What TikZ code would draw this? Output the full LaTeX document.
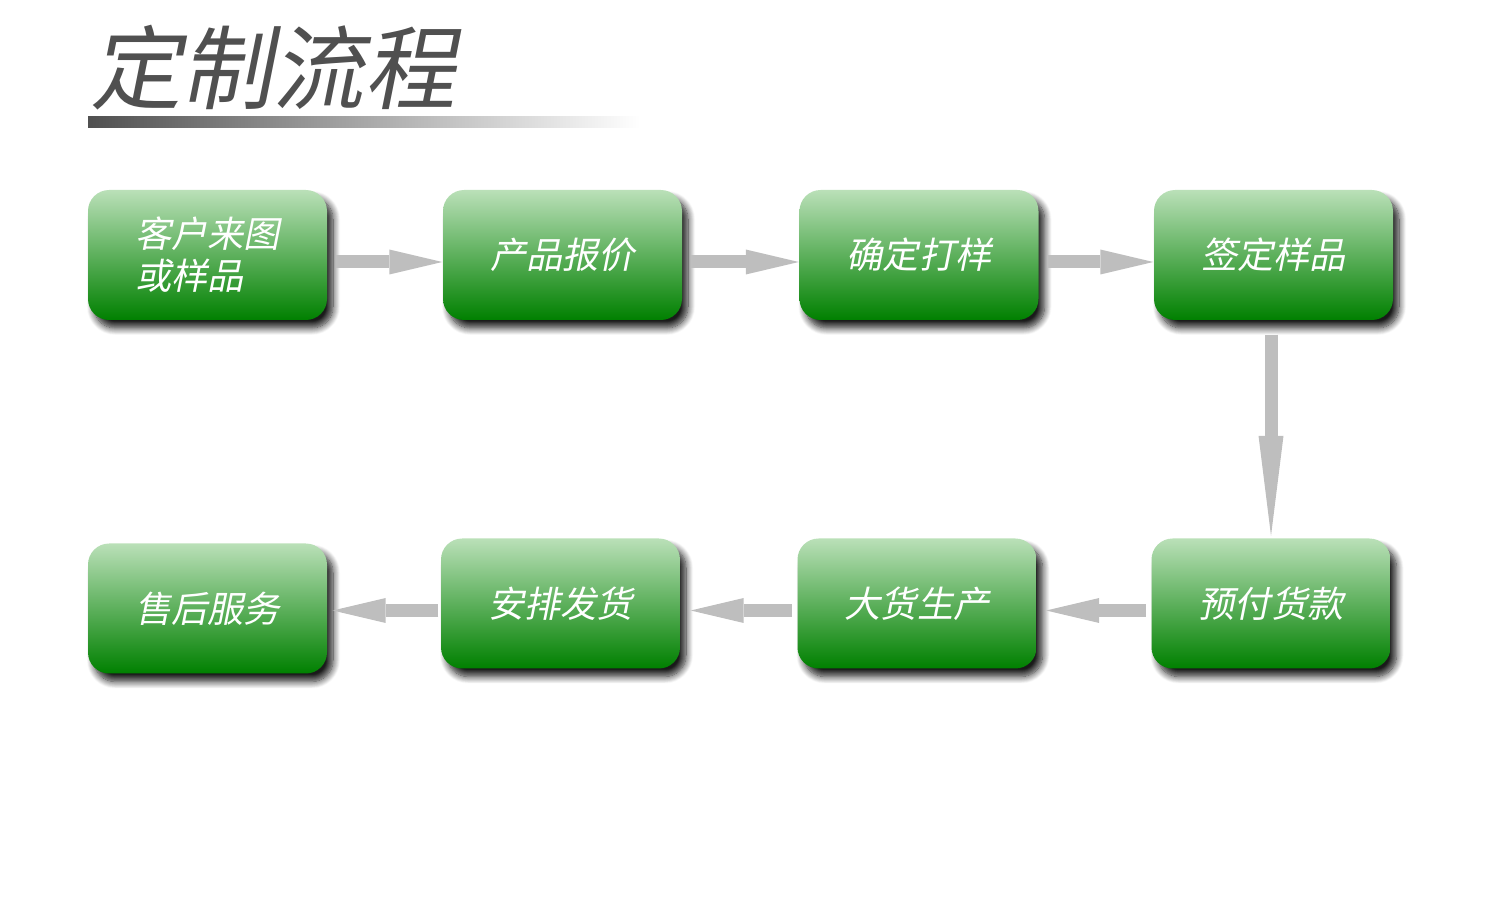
\documentclass[tikz,border=0pt]{standalone}
\usepackage{fontspec}
\usepackage{xcolor}
\usepackage{tikz}
\usetikzlibrary{arrows.meta,shadows.blur}
\newfontfamily\cjk[FakeSlant=0.2]{Noto Sans CJK SC}
\definecolor{boxTop}{RGB}{186,224,184}
\definecolor{boxBottom}{RGB}{0,128,0}
\definecolor{arrowGray}{RGB}{190,190,190}
\definecolor{titleGray}{RGB}{80,80,80}

\tikzset{
  stepbox/.style={rounded corners=6pt, top color=boxTop, bottom color=boxBottom, minimum width=2.39cm, minimum height=1.3cm, inner sep=0pt, align=left, text=white, font=\cjk\fontsize{10.3}{12}\selectfont, blur shadow={shadow xshift=0.06cm, shadow yshift=-0.08cm, shadow blur radius=0.07cm, shadow blur steps=10, shadow opacity=90}},
  flowarrow/.style={draw=arrowGray, line width=0.13cm, -{Triangle[width=0.25cm, length=0.53cm, line width=0pt]}}
}

\begin{document}
\begin{tikzpicture}
\useasboundingbox (0,0) rectangle (15,9);

% ===== TITLE =====
\node[font=\cjk\fontsize{26}{28}\selectfont, text=titleGray, inner sep=0pt] (title) at (2.73, 8.32) {定制流程};
\fill[left color=titleGray, right color=white] (0.88, 7.83) rectangle (6.4, 7.72);

% ===== TOP ROW =====
\node[stepbox] (drawing) at (2.075, 6.45) {客户来图\\或样品};
\node[stepbox] (quote) at (5.625, 6.45) {产品报价};
\node[stepbox] (sample) at (9.19, 6.45) {确定打样};
\node[stepbox] (signoff) at (12.735, 6.45) {签定样品};

% ===== BOTTOM ROW =====
\node[stepbox] (deposit) at (12.71, 2.965) {预付货款};
\node[stepbox] (produce) at (9.17, 2.965) {大货生产};
\node[stepbox] (ship) at (5.605, 2.965) {安排发货};
\node[stepbox] (service) at (2.075, 2.915) {售后服务};

% Arrows, top row
\draw[flowarrow, shorten <=0.08cm] ([yshift=-0.07cm]drawing.east) -- ([yshift=-0.07cm]quote.west);
\draw[flowarrow, shorten <=0.08cm] ([yshift=-0.07cm]quote.east) -- ([yshift=-0.07cm]sample.west);
\draw[flowarrow, shorten <=0.08cm] ([yshift=-0.07cm]sample.east) -- ([yshift=-0.07cm]signoff.west);

% Arrow down
\draw[draw=arrowGray, line width=0.13cm, -{Triangle[width=0.25cm, length=1.0cm, line width=0pt]}, shorten <=0.14cm, shorten >=0.02cm] (signoff.south -| deposit.north) -- (deposit.north);

% Arrows, bottom row
\draw[flowarrow, shorten <=0.05cm, shorten >=0.09cm] ([yshift=-0.07cm]deposit.west) -- ([yshift=-0.07cm]produce.east);
\draw[flowarrow, shorten <=0.05cm, shorten >=0.1cm] ([yshift=-0.07cm]produce.west) -- ([yshift=-0.07cm]ship.east);
\draw[flowarrow, shorten <=0.02cm, shorten >=0.05cm] ([yshift=-0.07cm]ship.west) -- ([yshift=-0.07cm]ship.west -| service.east);

\end{tikzpicture}
\end{document}
